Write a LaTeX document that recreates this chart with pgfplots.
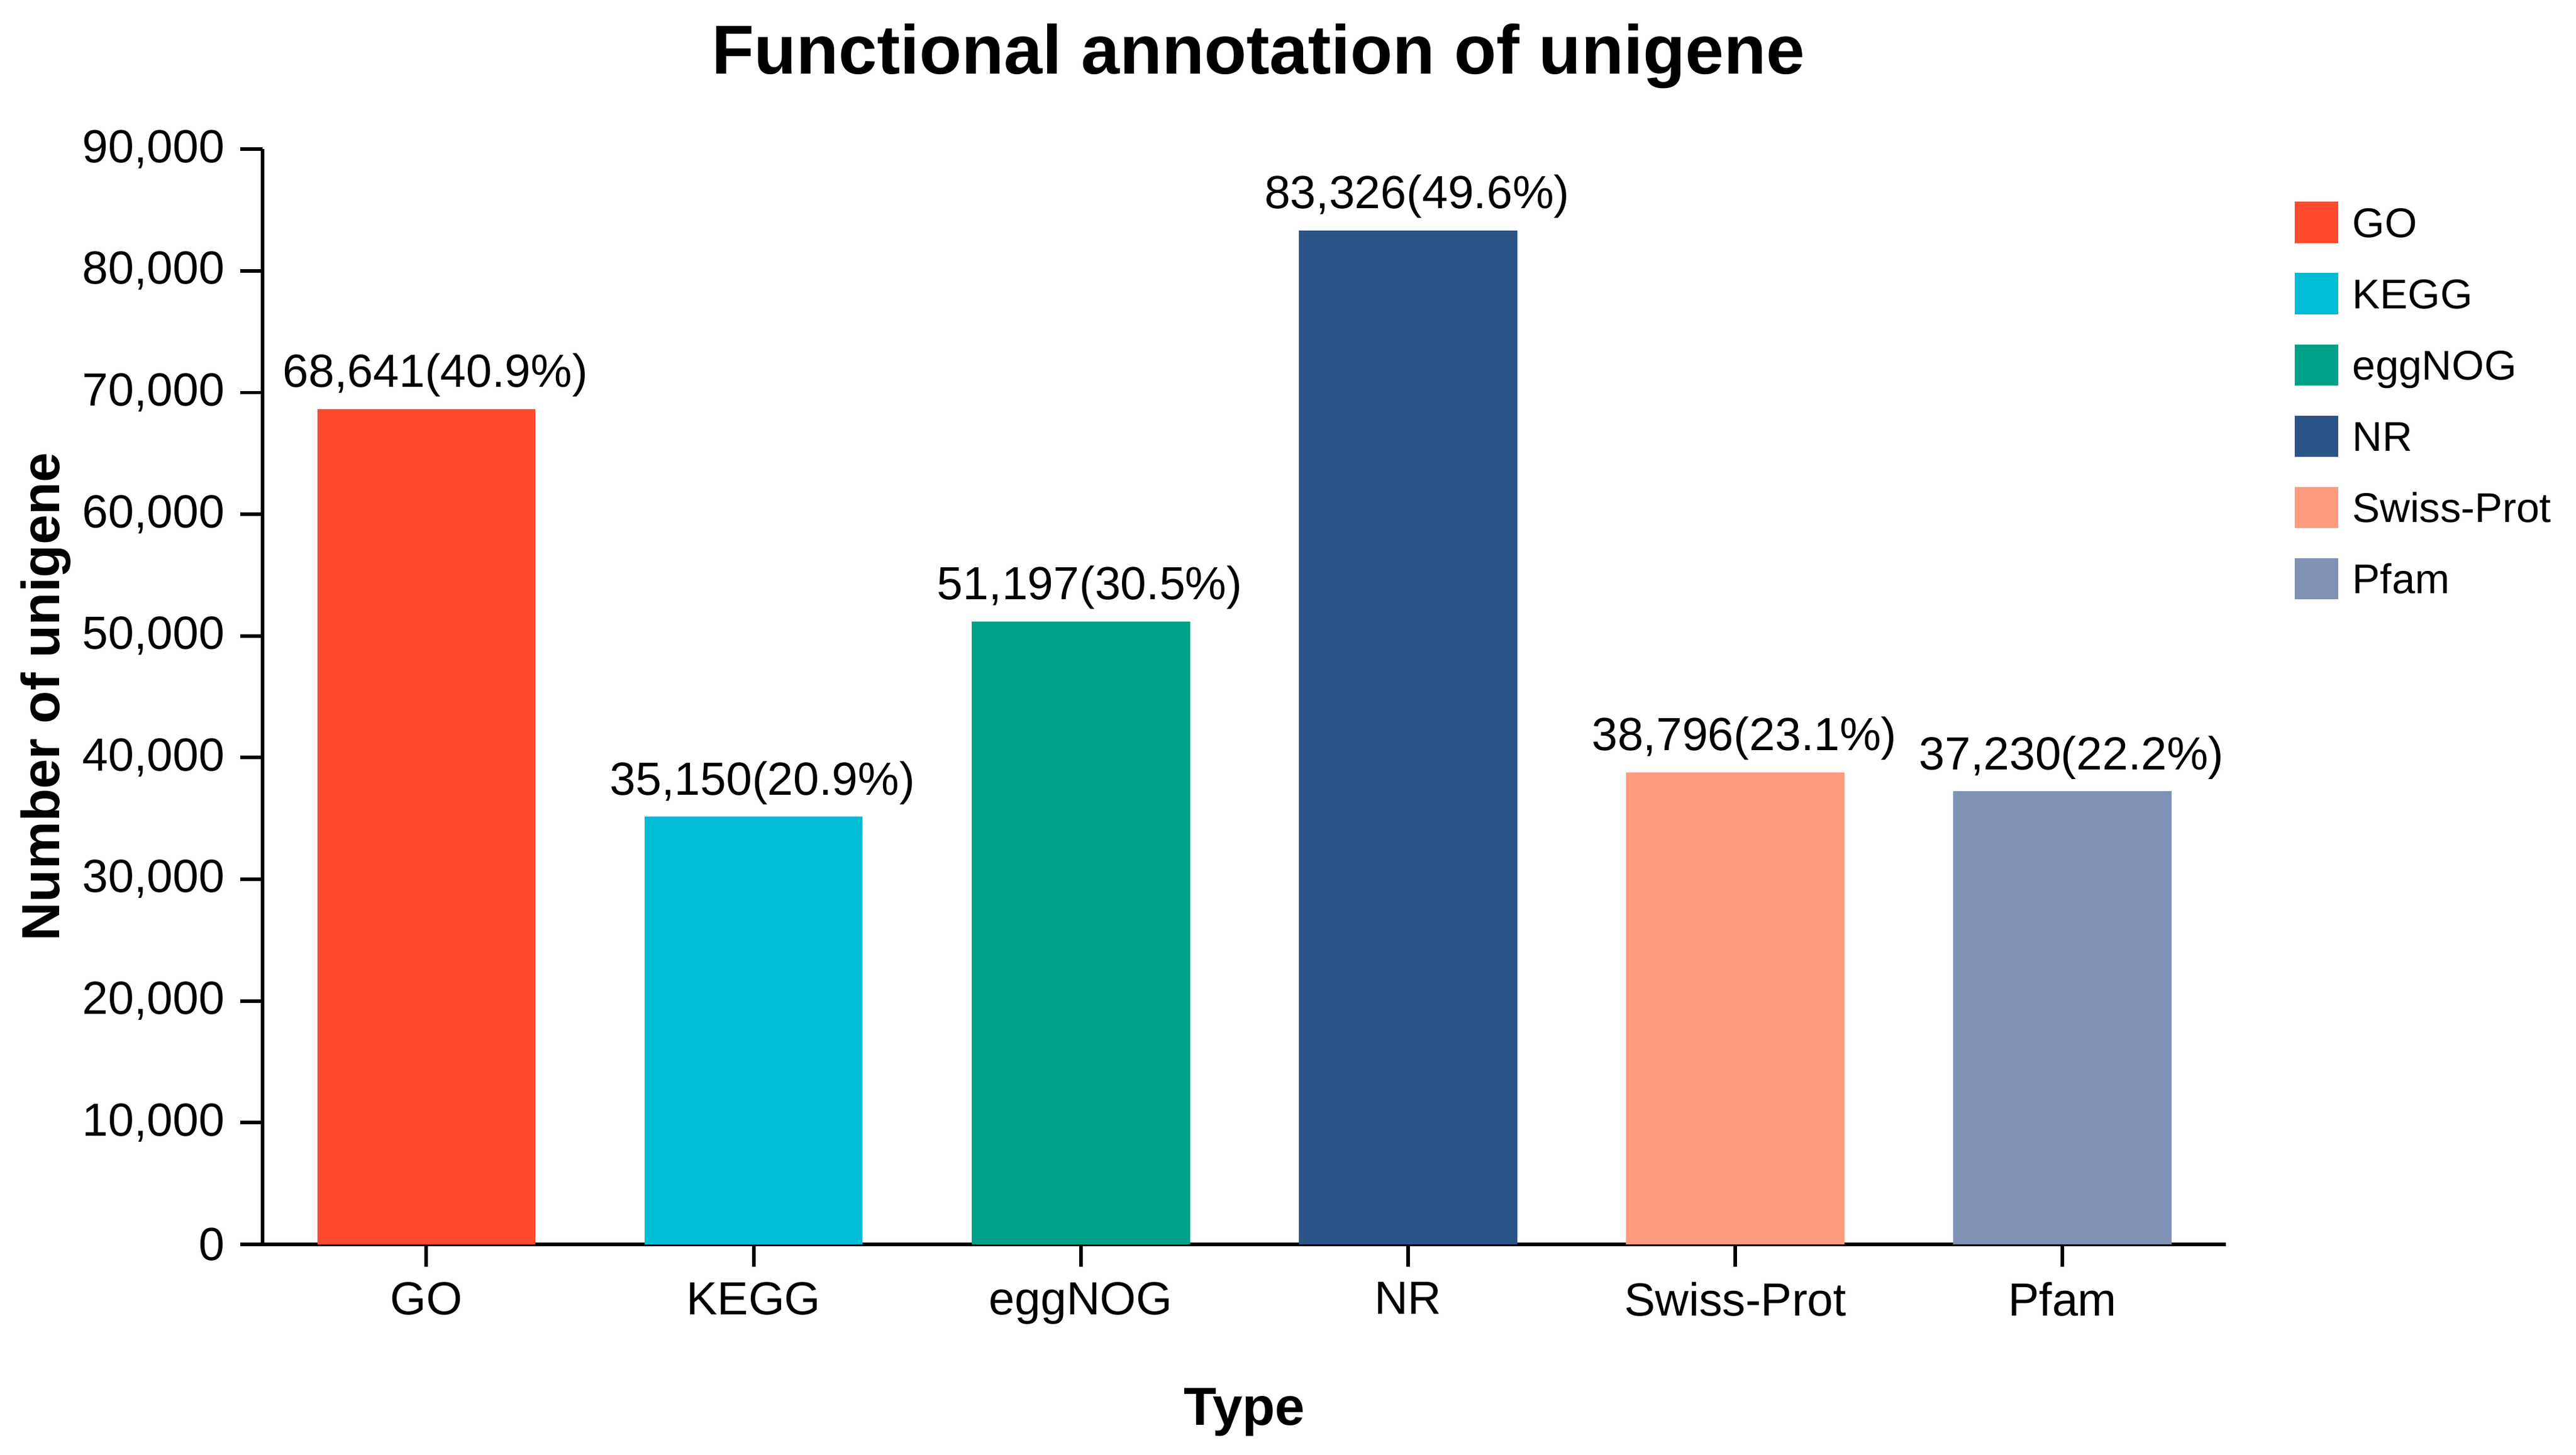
\documentclass[border=0pt]{standalone}
\usepackage{fontspec}
\setmainfont{Liberation Sans}
\usepackage{pgfplots}
\pgfplotsset{compat=1.18}

\definecolor{cGO}{HTML}{FF4A30}
\definecolor{cKEGG}{HTML}{00BCD5}
\definecolor{cEgg}{HTML}{00A187}
\definecolor{cNR}{HTML}{2A5387}
\definecolor{cSwiss}{HTML}{FF9B7F}
\definecolor{cPfam}{HTML}{8191B5}

\pgfplotsset{/pgf/number format/assume math mode=true}
\tikzset{lbl/.style={font=\fontsize{10.4}{12}\selectfont, inner sep=2.5pt, anchor=south, text=black, xshift=2pt}}

\begin{document}
\begin{tikzpicture}
\useasboundingbox (-58.8pt,-47.1pt) rectangle (517.7pt,278.5pt);
\begin{axis}[
  scale only axis, width=439.4pt, height=245.1pt,
  xmin=-0.5, xmax=5.5, ymin=0, ymax=90000,
  ybar, bar width=0.667, bar shift=0pt,
  axis lines=left, axis line style={-, line width=0.8pt},
  tick style={line width=0.8pt, black}, tick align=outside, major tick length=5pt,
  xtick={0,1,2,3,4,5},
  xticklabels={GO,KEGG,eggNOG,NR,Swiss-Prot,Pfam},
  ytick={0,10000,...,90000},
  scaled y ticks=false,
  yticklabel style={/pgf/number format/fixed, /pgf/number format/1000 sep={,}},
  ticklabel style={font=\fontsize{10.4}{12}\selectfont},
  every axis title shift=0pt,
  title={Functional annotation of unigene},
  title style={font=\fontsize{15.5}{18}\selectfont\bfseries, at={(axis description cs:0.507,1.069)}, anchor=base},
  xlabel={Type},
  xlabel style={font=\fontsize{12}{14}\selectfont\bfseries, at={(axis description cs:0.5,-0.165)}, anchor=base},
  ylabel={Number of unigene},
  ylabel style={font=\fontsize{12}{14}\selectfont\bfseries, at={(axis description cs:-0.1105,0.5)}, anchor=center},
  legend cell align=left,
  legend style={draw=none, fill=none, at={(axis description cs:1.0351,0.952)}, anchor=north west,
    inner sep=0pt, outer sep=0pt, row sep=6pt, font=\fontsize{9.3}{11}\selectfont,
    nodes={inner sep=0pt, text height=7pt, text depth=2pt},
    /tikz/every odd column/.append style={column sep=3.3pt}},
  legend image code/.code={\draw[#1, draw=none] (0pt,-3.75pt) rectangle (9.6pt,5.45pt);},
  /pgf/number format/1000 sep={,},
]
\addplot[fill=cGO, draw=none, nodes near coords={\pgfmathprintnumber{\pgfplotspointmeta}(40.9\%)}, every node near coord/.style={lbl}]
  coordinates {(0,68641)};
\addlegendentry{GO}
\addplot[fill=cKEGG, draw=none, nodes near coords={\pgfmathprintnumber{\pgfplotspointmeta}(20.9\%)}, every node near coord/.style={lbl}]
  coordinates {(1,35150)};
\addlegendentry{KEGG}
\addplot[fill=cEgg, draw=none, nodes near coords={\pgfmathprintnumber{\pgfplotspointmeta}(30.5\%)}, every node near coord/.style={lbl}]
  coordinates {(2,51197)};
\addlegendentry{eggNOG}
\addplot[fill=cNR, draw=none, nodes near coords={\pgfmathprintnumber{\pgfplotspointmeta}(49.6\%)}, every node near coord/.style={lbl}]
  coordinates {(3,83326)};
\addlegendentry{NR}
\addplot[fill=cSwiss, draw=none, nodes near coords={\pgfmathprintnumber{\pgfplotspointmeta}(23.1\%)}, every node near coord/.style={lbl}]
  coordinates {(4,38796)};
\addlegendentry{Swiss-Prot}
\addplot[fill=cPfam, draw=none, nodes near coords={\pgfmathprintnumber{\pgfplotspointmeta}(22.2\%)}, every node near coord/.style={lbl}]
  coordinates {(5,37230)};
\addlegendentry{Pfam}
\end{axis}
\end{tikzpicture}
\end{document}
